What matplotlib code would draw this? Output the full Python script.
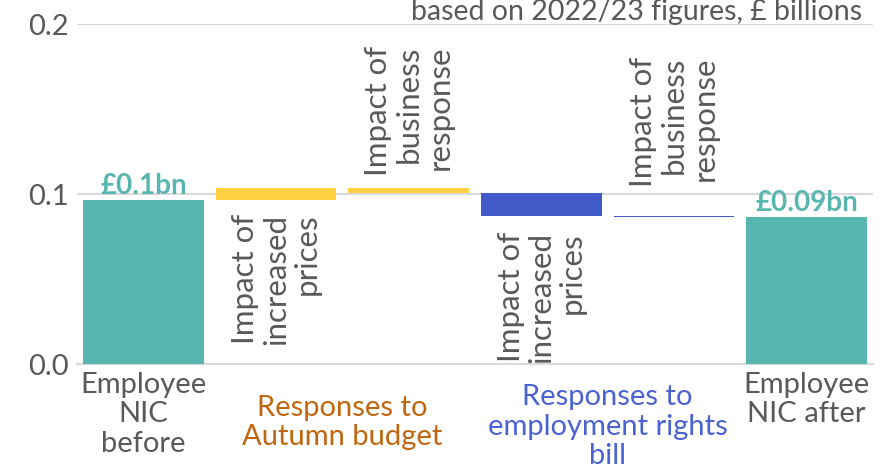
import numpy as np
import matplotlib
matplotlib.use("Agg")
from matplotlib import pyplot as plt

# waterfall values, £ billions
start_val = 0.0965
changes = [0.0070, -0.0030, -0.0135, -0.0006]
step_labels = ["Impact of\nincreased\nprices", "Impact of\nbusiness\nresponse",
               "Impact of\nincreased\nprices", "Impact of\nbusiness\nresponse"]
step_colors = ["#FFD040", "#FFD040", "#405BC8", "#405BC8"]
end_labels = ["Employee\nNIC\nbefore", "Employee\nNIC after"]
group_labels = ["Responses to\nAutumn budget", "Responses to\nemployment rights\nbill"]
group_colors = ["#C0660F", "#4A62D2"]

teal = "#58B6B0"
grey = "#595959"
plt.rcParams['font.family'] = ['Lato', 'DejaVu Sans']

end_val = start_val + sum(changes)

fig = plt.figure(figsize=(8.89, 4.69), dpi=100)
ax = fig.add_axes([77/889, 1-364/469, 796/889, 340/469])

x = np.arange(6)
w = 0.91

ax.bar(x[0], start_val, width=w, color=teal, zorder=3)
ax.bar(x[5], end_val, width=w, color=teal, zorder=3)

# floating steps
level = start_val
label_side = ["below", "above", "below", "above"]
label_pad = [10, 9, 11.5, 21]
for i, d in enumerate(changes):
    lo = min(level, level + d)
    hi = max(level, level + d)
    ax.bar(x[i+1], hi - lo, bottom=lo, width=w, color=step_colors[i], zorder=3)
    if label_side[i] == "above":
        ax.annotate(step_labels[i], (x[i+1], hi), xytext=(0, label_pad[i]),
                    textcoords="offset points", rotation=90, ha="center", va="bottom",
                    multialignment="right", fontsize=22.5, color=grey, linespacing=1.12)
    else:
        ax.annotate(step_labels[i], (x[i+1], lo), xytext=(0, -label_pad[i]),
                    textcoords="offset points", rotation=90, ha="center", va="top",
                    multialignment="right", fontsize=22.5, color=grey, linespacing=1.12)
    level += d

# value labels on the totals
for xi, v in [(x[0], start_val), (x[5], end_val)]:
    ax.annotate("£{:.2g}bn".format(round(v, 2)), (xi, v), xytext=(0, 1),
                textcoords="offset points", ha="center", va="bottom",
                fontsize=20, fontweight="bold", color=teal)

ax.set_xlim(-0.5, 5.5)
ax.set_ylim(0, 0.2)
ax.set_yticks([0.0, 0.1, 0.2])
ax.set_yticklabels(["0.0", "0.1", "0.2"])
ax.yaxis.grid(True, color="#D9D9D9", linewidth=1.5, zorder=0)
ax.set_axisbelow(True)
for s in ["top", "right", "left"]:
    ax.spines[s].set_visible(False)
ax.spines["bottom"].set_color("#D9D9D9")
ax.spines["bottom"].set_linewidth(1.5)
ax.tick_params(axis="both", length=0, labelsize=21, labelcolor=grey, pad=6)

ax.set_xticks([x[0], x[5]])
ax.set_xticklabels(end_labels, linespacing=1.15)

# group labels under the steps
ax.text((x[1] + x[2]) / 2, -0.018, group_labels[0], ha="center", va="top",
        fontsize=21, color=group_colors[0], linespacing=1.15)
ax.text((x[3] + x[4]) / 2, -0.012, group_labels[1], ha="center", va="top",
        fontsize=21, color=group_colors[1], linespacing=1.15)

fig.text(862/889, 1-12/469, "based on 2022/23 figures, £ billions", ha="right", va="center",
         fontsize=20.5, color=grey)

fig.savefig("out.png", dpi=100)
